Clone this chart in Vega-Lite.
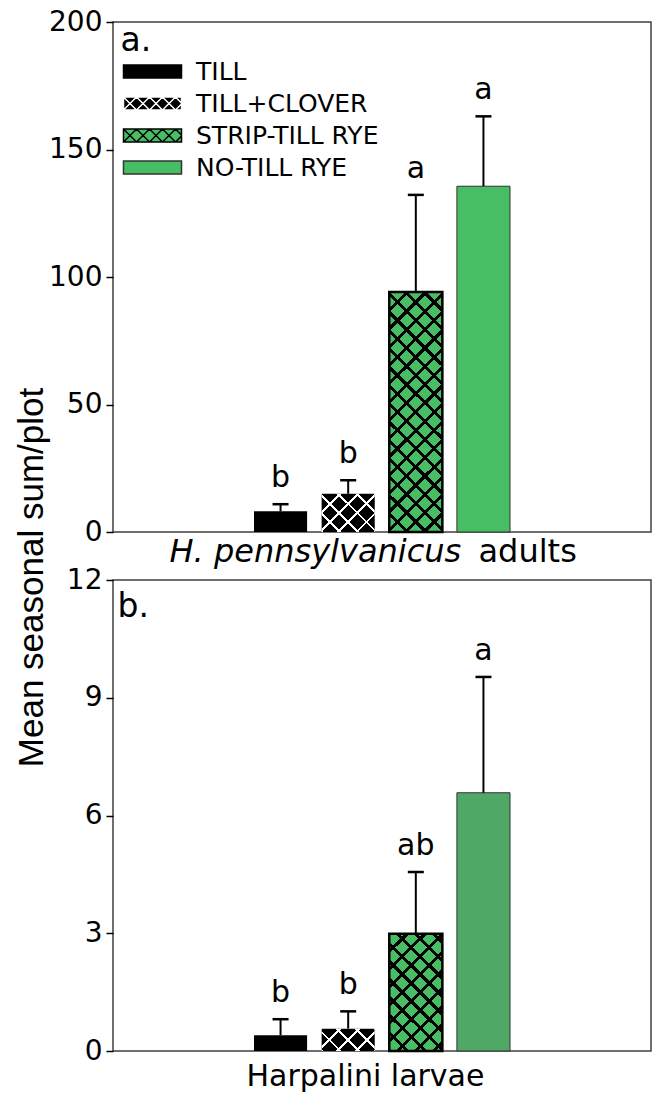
{
  "$schema": "https://vega.github.io/schema/vega-lite/v6.json",
  "padding": {"left": 13, "top": 7, "right": 4, "bottom": 5},
  "config": {
    "font": "DejaVu Sans",
    "view": {"stroke": "#404040", "strokeWidth": 1.5},
    "axis": {"grid": false}
  },
  "datasets": {
    "adults": [
      {"treatment": "TILL", "mean": 8.1, "upper": 10.9, "letter": "b"},
      {"treatment": "TILL+CLOVER", "mean": 15.0, "upper": 20.3, "letter": "b"},
      {"treatment": "STRIP-TILL RYE", "mean": 94.1, "upper": 132.2, "letter": "a"},
      {"treatment": "NO-TILL RYE", "mean": 135.6, "upper": 163.0, "letter": "a"}
    ],
    "larvae": [
      {"treatment": "TILL", "mean": 0.40, "upper": 0.81, "letter": "b"},
      {"treatment": "TILL+CLOVER", "mean": 0.57, "upper": 1.01, "letter": "b"},
      {"treatment": "STRIP-TILL RYE", "mean": 2.99, "upper": 4.56, "letter": "ab"},
      {"treatment": "NO-TILL RYE", "mean": 6.58, "upper": 9.53, "letter": "a"}
    ]
  },
  "spacing": 48,
  "bounds": "flush",
  "resolve": {"scale": {"x": "independent", "y": "independent", "fill": "independent"}, "legend": {"fill": "independent"}},
  "vconcat": [
    {
      "width": 538,
      "height": 510,
      "data": {"name": "adults"},
      "resolve": {"axis": {"x": "independent"}},
      "layer": [
        {
          "mark": {"type": "bar"},
          "encoding": {
            "x": {"field": "treatment", "type": "nominal", "sort": null,
              "scale": {"domain": ["TILL", "TILL+CLOVER", "STRIP-TILL RYE", "NO-TILL RYE"], "range": [141, 397], "paddingInner": 0.215, "paddingOuter": 0},
              "axis": {"orient": "bottom", "domain": false, "ticks": false, "labels": false, "title": "H. pennsylvanicus", "titleFont": "DejaVu Sans", "titleFontSize": 32, "titleFontStyle": "italic", "titleFontWeight": "normal", "titleColor": "black", "titleAlign": "left", "titleAnchor": "start", "titleX": 56, "titleY": 29, "titleBaseline": "alphabetic"}},
            "y": {"field": "mean", "type": "quantitative", "scale": {"domain": [0, 200], "nice": false},
              "axis": {"values": [0, 50, 100, 150, 200], "domain": false, "grid": false, "tickSize": 7, "tickColor": "black", "tickWidth": 1.5, "labelFont": "DejaVu Sans", "labelFontSize": 28, "labelColor": "black", "labelPadding": 4, "title": "Mean seasonal sum/plot", "titleFont": "Liberation Sans", "titleFontSize": 35, "titleFontWeight": "normal", "titleColor": "black", "titleAngle": 270, "titleAlign": "center", "titleBaseline": "middle", "titleX": -82, "titleY": 555}},
            "fill": {"field": "treatment", "type": "nominal",
              "scale": {"domain": ["TILL", "TILL+CLOVER", "STRIP-TILL RYE", "NO-TILL RYE"], "range": ["#000000", "#000000", "#48BE64", "#48BE64"]},
              "legend": null}
          }
        },
        {
          "mark": {"type": "point", "filled": true, "opacity": 0, "strokeWidth": 1.5},
          "encoding": {
            "x": {"field": "treatment", "type": "nominal", "sort": null, "axis": null},
            "y": {"field": "mean", "type": "quantitative"},
            "color": {"field": "treatment", "type": "nominal",
              "scale": {"domain": ["TILL", "TILL+CLOVER", "STRIP-TILL RYE", "NO-TILL RYE"], "range": ["#000000", "#000000", "#48BE64", "#48BE64"]},
              "legend": {"orient": "none", "legendX": 27, "legendY": 37, "title": null, "padding": 0, "labelFont": "DejaVu Sans", "labelFontSize": 25, "labelColor": "black", "labelLimit": 400, "labelOffset": 31, "symbolSize": 400, "rowPadding": 6, "symbolOpacity": 1, "symbolStrokeWidth": 1.5}},
            "shape": {"field": "treatment", "type": "nominal",
              "scale": {"domain": ["TILL", "TILL+CLOVER", "STRIP-TILL RYE", "NO-TILL RYE"], "range": [
                "M-2.9,-0.65H2.9V0.65H-2.9Z",
                "M-2.9,-0.65H2.9V0.65H-2.9Z M-2.9,0.65L-1.6,-0.65 M-2.9,-0.65L-1.6,0.65 M-1.6,0.65L-0.3,-0.65 M-1.6,-0.65L-0.3,0.65 M-0.3,0.65L1,-0.65 M-0.3,-0.65L1,0.65 M1,0.65L2.3,-0.65 M1,-0.65L2.3,0.65 M2.3,0.65L2.9,0.05 M2.3,-0.65L2.9,-0.05",
                "M-2.9,-0.65H2.9V0.65H-2.9Z M-2.9,0.65L-1.6,-0.65 M-2.9,-0.65L-1.6,0.65 M-1.6,0.65L-0.3,-0.65 M-1.6,-0.65L-0.3,0.65 M-0.3,0.65L1,-0.65 M-0.3,-0.65L1,0.65 M1,0.65L2.3,-0.65 M1,-0.65L2.3,0.65 M2.3,0.65L2.9,0.05 M2.3,-0.65L2.9,-0.05",
                "M-2.9,-0.65H2.9V0.65H-2.9Z"]},
              "legend": {"orient": "none", "legendX": 27, "legendY": 37, "title": null, "padding": 0, "labelFont": "DejaVu Sans", "labelFontSize": 25, "labelColor": "black", "labelLimit": 400, "labelOffset": 31, "symbolSize": 400, "rowPadding": 6, "symbolOpacity": 1, "symbolStrokeWidth": 1.5}},
            "stroke": {"field": "treatment", "type": "nominal",
              "scale": {"domain": ["TILL", "TILL+CLOVER", "STRIP-TILL RYE", "NO-TILL RYE"], "range": ["#000000", "#FFFFFF", "#000000", "#333333"]},
              "legend": {"orient": "none", "legendX": 27, "legendY": 37, "title": null, "padding": 0, "labelFont": "DejaVu Sans", "labelFontSize": 25, "labelColor": "black", "labelLimit": 400, "labelOffset": 31, "symbolSize": 400, "rowPadding": 6, "symbolOpacity": 1, "symbolStrokeWidth": 1.5}}
          }
        },
        {
          "transform": [{"filter": "datum.treatment === 'NO-TILL RYE'"}],
          "mark": {"type": "bar", "fill": "transparent", "stroke": "#333333", "strokeWidth": 1},
          "encoding": {
            "x": {"field": "treatment", "type": "nominal", "sort": null, "axis": null},
            "y": {"field": "mean", "type": "quantitative"}
          }
        },
        {
          "transform": [{"filter": "datum.treatment === 'STRIP-TILL RYE'"}],
          "mark": {"type": "bar", "fill": {"gradient": "linear", "x1": 0, "y1": 0, "x2": 0.2565, "y2": 1.1639, "stops": [
            {"offset": 0, "color": "#000"}, {"offset": 0.0072, "color": "#000"}, {"offset": 0.0072, "color": "transparent"},
            {"offset": 0.0553, "color": "transparent"}, {"offset": 0.0553, "color": "#000"}, {"offset": 0.0697, "color": "#000"}, {"offset": 0.0697, "color": "transparent"},
            {"offset": 0.1178, "color": "transparent"}, {"offset": 0.1178, "color": "#000"}, {"offset": 0.1322, "color": "#000"}, {"offset": 0.1322, "color": "transparent"},
            {"offset": 0.1803, "color": "transparent"}, {"offset": 0.1803, "color": "#000"}, {"offset": 0.1947, "color": "#000"}, {"offset": 0.1947, "color": "transparent"},
            {"offset": 0.2428, "color": "transparent"}, {"offset": 0.2428, "color": "#000"}, {"offset": 0.2572, "color": "#000"}, {"offset": 0.2572, "color": "transparent"},
            {"offset": 0.3053, "color": "transparent"}, {"offset": 0.3053, "color": "#000"}, {"offset": 0.3197, "color": "#000"}, {"offset": 0.3197, "color": "transparent"},
            {"offset": 0.3678, "color": "transparent"}, {"offset": 0.3678, "color": "#000"}, {"offset": 0.3822, "color": "#000"}, {"offset": 0.3822, "color": "transparent"},
            {"offset": 0.4303, "color": "transparent"}, {"offset": 0.4303, "color": "#000"}, {"offset": 0.4447, "color": "#000"}, {"offset": 0.4447, "color": "transparent"},
            {"offset": 0.4928, "color": "transparent"}, {"offset": 0.4928, "color": "#000"}, {"offset": 0.5072, "color": "#000"}, {"offset": 0.5072, "color": "transparent"},
            {"offset": 0.5553, "color": "transparent"}, {"offset": 0.5553, "color": "#000"}, {"offset": 0.5697, "color": "#000"}, {"offset": 0.5697, "color": "transparent"},
            {"offset": 0.6178, "color": "transparent"}, {"offset": 0.6178, "color": "#000"}, {"offset": 0.6322, "color": "#000"}, {"offset": 0.6322, "color": "transparent"},
            {"offset": 0.6803, "color": "transparent"}, {"offset": 0.6803, "color": "#000"}, {"offset": 0.6947, "color": "#000"}, {"offset": 0.6947, "color": "transparent"},
            {"offset": 0.7428, "color": "transparent"}, {"offset": 0.7428, "color": "#000"}, {"offset": 0.7572, "color": "#000"}, {"offset": 0.7572, "color": "transparent"},
            {"offset": 0.8053, "color": "transparent"}, {"offset": 0.8053, "color": "#000"}, {"offset": 0.8197, "color": "#000"}, {"offset": 0.8197, "color": "transparent"},
            {"offset": 0.8678, "color": "transparent"}, {"offset": 0.8678, "color": "#000"}, {"offset": 0.8822, "color": "#000"}, {"offset": 0.8822, "color": "transparent"},
            {"offset": 0.9303, "color": "transparent"}, {"offset": 0.9303, "color": "#000"}, {"offset": 0.9447, "color": "#000"}, {"offset": 0.9447, "color": "transparent"},
            {"offset": 0.9928, "color": "transparent"}, {"offset": 0.9928, "color": "#000"}, {"offset": 1, "color": "#000"}]}},
          "encoding": {
            "x": {"field": "treatment", "type": "nominal", "sort": null, "axis": null},
            "y": {"field": "mean", "type": "quantitative"}
          }
        },
        {
          "transform": [{"filter": "datum.treatment === 'STRIP-TILL RYE'"}],
          "mark": {"type": "bar", "stroke": "black", "strokeWidth": 2.5, "fill": {"gradient": "linear", "x1": 0, "y1": 1, "x2": 0.2565, "y2": -0.1639, "stops": [
            {"offset": 0, "color": "#000"}, {"offset": 0.0072, "color": "#000"}, {"offset": 0.0072, "color": "transparent"},
            {"offset": 0.0553, "color": "transparent"}, {"offset": 0.0553, "color": "#000"}, {"offset": 0.0697, "color": "#000"}, {"offset": 0.0697, "color": "transparent"},
            {"offset": 0.1178, "color": "transparent"}, {"offset": 0.1178, "color": "#000"}, {"offset": 0.1322, "color": "#000"}, {"offset": 0.1322, "color": "transparent"},
            {"offset": 0.1803, "color": "transparent"}, {"offset": 0.1803, "color": "#000"}, {"offset": 0.1947, "color": "#000"}, {"offset": 0.1947, "color": "transparent"},
            {"offset": 0.2428, "color": "transparent"}, {"offset": 0.2428, "color": "#000"}, {"offset": 0.2572, "color": "#000"}, {"offset": 0.2572, "color": "transparent"},
            {"offset": 0.3053, "color": "transparent"}, {"offset": 0.3053, "color": "#000"}, {"offset": 0.3197, "color": "#000"}, {"offset": 0.3197, "color": "transparent"},
            {"offset": 0.3678, "color": "transparent"}, {"offset": 0.3678, "color": "#000"}, {"offset": 0.3822, "color": "#000"}, {"offset": 0.3822, "color": "transparent"},
            {"offset": 0.4303, "color": "transparent"}, {"offset": 0.4303, "color": "#000"}, {"offset": 0.4447, "color": "#000"}, {"offset": 0.4447, "color": "transparent"},
            {"offset": 0.4928, "color": "transparent"}, {"offset": 0.4928, "color": "#000"}, {"offset": 0.5072, "color": "#000"}, {"offset": 0.5072, "color": "transparent"},
            {"offset": 0.5553, "color": "transparent"}, {"offset": 0.5553, "color": "#000"}, {"offset": 0.5697, "color": "#000"}, {"offset": 0.5697, "color": "transparent"},
            {"offset": 0.6178, "color": "transparent"}, {"offset": 0.6178, "color": "#000"}, {"offset": 0.6322, "color": "#000"}, {"offset": 0.6322, "color": "transparent"},
            {"offset": 0.6803, "color": "transparent"}, {"offset": 0.6803, "color": "#000"}, {"offset": 0.6947, "color": "#000"}, {"offset": 0.6947, "color": "transparent"},
            {"offset": 0.7428, "color": "transparent"}, {"offset": 0.7428, "color": "#000"}, {"offset": 0.7572, "color": "#000"}, {"offset": 0.7572, "color": "transparent"},
            {"offset": 0.8053, "color": "transparent"}, {"offset": 0.8053, "color": "#000"}, {"offset": 0.8197, "color": "#000"}, {"offset": 0.8197, "color": "transparent"},
            {"offset": 0.8678, "color": "transparent"}, {"offset": 0.8678, "color": "#000"}, {"offset": 0.8822, "color": "#000"}, {"offset": 0.8822, "color": "transparent"},
            {"offset": 0.9303, "color": "transparent"}, {"offset": 0.9303, "color": "#000"}, {"offset": 0.9447, "color": "#000"}, {"offset": 0.9447, "color": "transparent"},
            {"offset": 0.9928, "color": "transparent"}, {"offset": 0.9928, "color": "#000"}, {"offset": 1, "color": "#000"}]}},
          "encoding": {
            "x": {"field": "treatment", "type": "nominal", "sort": null, "axis": null},
            "y": {"field": "mean", "type": "quantitative"}
          }
        },
        {
          "transform": [{"filter": "datum.treatment === 'TILL+CLOVER'"}],
          "mark": {"type": "bar", "fill": {"gradient": "linear", "x1": 0, "y1": 0, "x2": 1.1315, "y2": 0.8181, "stops": [
            {"offset": 0, "color": "#fff"}, {"offset": 0.0155, "color": "#fff"}, {"offset": 0.0155, "color": "transparent"},
            {"offset": 0.1845, "color": "transparent"}, {"offset": 0.1845, "color": "#fff"}, {"offset": 0.2155, "color": "#fff"}, {"offset": 0.2155, "color": "transparent"},
            {"offset": 0.3845, "color": "transparent"}, {"offset": 0.3845, "color": "#fff"}, {"offset": 0.4155, "color": "#fff"}, {"offset": 0.4155, "color": "transparent"},
            {"offset": 0.5845, "color": "transparent"}, {"offset": 0.5845, "color": "#fff"}, {"offset": 0.6155, "color": "#fff"}, {"offset": 0.6155, "color": "transparent"},
            {"offset": 0.7845, "color": "transparent"}, {"offset": 0.7845, "color": "#fff"}, {"offset": 0.8155, "color": "#fff"}, {"offset": 0.8155, "color": "transparent"},
            {"offset": 0.9845, "color": "transparent"}, {"offset": 0.9845, "color": "#fff"}, {"offset": 1, "color": "#fff"}]}},
          "encoding": {
            "x": {"field": "treatment", "type": "nominal", "sort": null, "axis": null},
            "y": {"field": "mean", "type": "quantitative"}
          }
        },
        {
          "transform": [{"filter": "datum.treatment === 'TILL+CLOVER'"}],
          "mark": {"type": "bar", "fill": {"gradient": "linear", "x1": 0, "y1": 1, "x2": 1.1315, "y2": 0.1819, "stops": [
            {"offset": 0, "color": "#fff"}, {"offset": 0.0155, "color": "#fff"}, {"offset": 0.0155, "color": "transparent"},
            {"offset": 0.1845, "color": "transparent"}, {"offset": 0.1845, "color": "#fff"}, {"offset": 0.2155, "color": "#fff"}, {"offset": 0.2155, "color": "transparent"},
            {"offset": 0.3845, "color": "transparent"}, {"offset": 0.3845, "color": "#fff"}, {"offset": 0.4155, "color": "#fff"}, {"offset": 0.4155, "color": "transparent"},
            {"offset": 0.5845, "color": "transparent"}, {"offset": 0.5845, "color": "#fff"}, {"offset": 0.6155, "color": "#fff"}, {"offset": 0.6155, "color": "transparent"},
            {"offset": 0.7845, "color": "transparent"}, {"offset": 0.7845, "color": "#fff"}, {"offset": 0.8155, "color": "#fff"}, {"offset": 0.8155, "color": "transparent"},
            {"offset": 0.9845, "color": "transparent"}, {"offset": 0.9845, "color": "#fff"}, {"offset": 1, "color": "#fff"}]}},
          "encoding": {
            "x": {"field": "treatment", "type": "nominal", "sort": null, "axis": null},
            "y": {"field": "mean", "type": "quantitative"}
          }
        },
        {
          "mark": {"type": "rule", "color": "black", "strokeWidth": 2},
          "encoding": {
            "x": {"field": "treatment", "type": "nominal", "sort": null,
              "axis": {"orient": "bottom", "domain": false, "ticks": false, "labels": false, "title": "adults", "titleFont": "DejaVu Sans", "titleFontSize": 32, "titleFontWeight": "normal", "titleColor": "black", "titleAlign": "left", "titleAnchor": "start", "titleX": 365, "titleY": 29, "titleBaseline": "alphabetic"}},
            "y": {"field": "mean", "type": "quantitative"},
            "y2": {"field": "upper"}
          }
        },
        {
          "mark": {"type": "tick", "color": "black", "size": 16, "thickness": 2.5, "orient": "horizontal", "opacity": 1},
          "encoding": {
            "x": {"field": "treatment", "type": "nominal", "sort": null, "axis": null},
            "y": {"field": "upper", "type": "quantitative"}
          }
        },
        {
          "mark": {"type": "text", "font": "DejaVu Sans", "fontSize": 30, "color": "black", "baseline": "alphabetic", "dy": -17},
          "encoding": {
            "x": {"field": "treatment", "type": "nominal", "sort": null,
              "axis": {"orient": "top", "domain": false, "ticks": false, "labels": false, "title": "a.", "titleFont": "DejaVu Sans", "titleFontSize": 33, "titleFontWeight": "normal", "titleColor": "black", "titleAlign": "left", "titleAnchor": "start", "titleX": 7, "titleY": 28, "titleBaseline": "alphabetic"}},
            "y": {"field": "upper", "type": "quantitative"},
            "text": {"field": "letter"}
          }
        }
      ]
    },
    {
      "width": 538,
      "height": 471,
      "data": {"name": "larvae"},
      "resolve": {"axis": {"x": "independent"}},
      "layer": [
        {
          "mark": {"type": "bar"},
          "encoding": {
            "x": {"field": "treatment", "type": "nominal", "sort": null,
              "scale": {"domain": ["TILL", "TILL+CLOVER", "STRIP-TILL RYE", "NO-TILL RYE"], "range": [141, 397], "paddingInner": 0.215, "paddingOuter": 0},
              "axis": {"orient": "bottom", "domain": false, "ticks": false, "labels": false, "title": "Harpalini larvae", "titleFont": "DejaVu Sans", "titleFontSize": 30, "titleFontWeight": "normal", "titleColor": "black", "titleAlign": "center", "titleAnchor": "middle", "titleX": 252, "titleY": 34, "titleBaseline": "alphabetic"}},
            "y": {"field": "mean", "type": "quantitative", "scale": {"domain": [0, 12], "nice": false},
              "axis": {"values": [0, 3, 6, 9, 12], "domain": false, "grid": false, "tickSize": 7, "tickColor": "black", "tickWidth": 1.5, "labelFont": "DejaVu Sans", "labelFontSize": 28, "labelColor": "black", "labelPadding": 4, "title": null}},
            "fill": {"field": "treatment", "type": "nominal",
              "scale": {"domain": ["TILL", "TILL+CLOVER", "STRIP-TILL RYE", "NO-TILL RYE"], "range": ["#000000", "#000000", "#48BE64", "#4FA866"]},
              "legend": null}
          }
        },
        {
          "transform": [{"filter": "datum.treatment === 'NO-TILL RYE'"}],
          "mark": {"type": "bar", "fill": "transparent", "stroke": "#333333", "strokeWidth": 1},
          "encoding": {
            "x": {"field": "treatment", "type": "nominal", "sort": null, "axis": null},
            "y": {"field": "mean", "type": "quantitative"}
          }
        },
        {
          "transform": [{"filter": "datum.treatment === 'STRIP-TILL RYE'"}],
          "mark": {"type": "bar", "fill": {"gradient": "linear", "x1": 0, "y1": 0, "x2": 0.5433, "y2": 1.2058, "stops": [
            {"offset": 0, "color": "#000"}, {"offset": 0.0125, "color": "#000"}, {"offset": 0.0125, "color": "transparent"},
            {"offset": 0.0928, "color": "transparent"}, {"offset": 0.0928, "color": "#000"}, {"offset": 0.1178, "color": "#000"}, {"offset": 0.1178, "color": "transparent"},
            {"offset": 0.198, "color": "transparent"}, {"offset": 0.198, "color": "#000"}, {"offset": 0.223, "color": "#000"}, {"offset": 0.223, "color": "transparent"},
            {"offset": 0.3033, "color": "transparent"}, {"offset": 0.3033, "color": "#000"}, {"offset": 0.3283, "color": "#000"}, {"offset": 0.3283, "color": "transparent"},
            {"offset": 0.4086, "color": "transparent"}, {"offset": 0.4086, "color": "#000"}, {"offset": 0.4336, "color": "#000"}, {"offset": 0.4336, "color": "transparent"},
            {"offset": 0.5138, "color": "transparent"}, {"offset": 0.5138, "color": "#000"}, {"offset": 0.5388, "color": "#000"}, {"offset": 0.5388, "color": "transparent"},
            {"offset": 0.6191, "color": "transparent"}, {"offset": 0.6191, "color": "#000"}, {"offset": 0.6441, "color": "#000"}, {"offset": 0.6441, "color": "transparent"},
            {"offset": 0.7243, "color": "transparent"}, {"offset": 0.7243, "color": "#000"}, {"offset": 0.7493, "color": "#000"}, {"offset": 0.7493, "color": "transparent"},
            {"offset": 0.8296, "color": "transparent"}, {"offset": 0.8296, "color": "#000"}, {"offset": 0.8546, "color": "#000"}, {"offset": 0.8546, "color": "transparent"},
            {"offset": 0.9349, "color": "transparent"}, {"offset": 0.9349, "color": "#000"}, {"offset": 0.9599, "color": "#000"}, {"offset": 0.9599, "color": "transparent"},
            {"offset": 1, "color": "transparent"}]}},
          "encoding": {
            "x": {"field": "treatment", "type": "nominal", "sort": null, "axis": null},
            "y": {"field": "mean", "type": "quantitative"}
          }
        },
        {
          "transform": [{"filter": "datum.treatment === 'STRIP-TILL RYE'"}],
          "mark": {"type": "bar", "stroke": "black", "strokeWidth": 2.5, "fill": {"gradient": "linear", "x1": 0, "y1": 1, "x2": 0.5433, "y2": -0.2058, "stops": [
            {"offset": 0, "color": "#000"}, {"offset": 0.0125, "color": "#000"}, {"offset": 0.0125, "color": "transparent"},
            {"offset": 0.0928, "color": "transparent"}, {"offset": 0.0928, "color": "#000"}, {"offset": 0.1178, "color": "#000"}, {"offset": 0.1178, "color": "transparent"},
            {"offset": 0.198, "color": "transparent"}, {"offset": 0.198, "color": "#000"}, {"offset": 0.223, "color": "#000"}, {"offset": 0.223, "color": "transparent"},
            {"offset": 0.3033, "color": "transparent"}, {"offset": 0.3033, "color": "#000"}, {"offset": 0.3283, "color": "#000"}, {"offset": 0.3283, "color": "transparent"},
            {"offset": 0.4086, "color": "transparent"}, {"offset": 0.4086, "color": "#000"}, {"offset": 0.4336, "color": "#000"}, {"offset": 0.4336, "color": "transparent"},
            {"offset": 0.5138, "color": "transparent"}, {"offset": 0.5138, "color": "#000"}, {"offset": 0.5388, "color": "#000"}, {"offset": 0.5388, "color": "transparent"},
            {"offset": 0.6191, "color": "transparent"}, {"offset": 0.6191, "color": "#000"}, {"offset": 0.6441, "color": "#000"}, {"offset": 0.6441, "color": "transparent"},
            {"offset": 0.7243, "color": "transparent"}, {"offset": 0.7243, "color": "#000"}, {"offset": 0.7493, "color": "#000"}, {"offset": 0.7493, "color": "transparent"},
            {"offset": 0.8296, "color": "transparent"}, {"offset": 0.8296, "color": "#000"}, {"offset": 0.8546, "color": "#000"}, {"offset": 0.8546, "color": "transparent"},
            {"offset": 0.9349, "color": "transparent"}, {"offset": 0.9349, "color": "#000"}, {"offset": 0.9599, "color": "#000"}, {"offset": 0.9599, "color": "transparent"},
            {"offset": 1, "color": "transparent"}]}},
          "encoding": {
            "x": {"field": "treatment", "type": "nominal", "sort": null, "axis": null},
            "y": {"field": "mean", "type": "quantitative"}
          }
        },
        {
          "transform": [{"filter": "datum.treatment === 'TILL+CLOVER'"}],
          "mark": {"type": "bar", "fill": {"gradient": "linear", "x1": 0, "y1": 0, "x2": 1.207, "y2": 0.5111, "stops": [
            {"offset": 0, "color": "#fff"}, {"offset": 0.0188, "color": "#fff"}, {"offset": 0.0188, "color": "transparent"},
            {"offset": 0.2312, "color": "transparent"}, {"offset": 0.2312, "color": "#fff"}, {"offset": 0.2688, "color": "#fff"}, {"offset": 0.2688, "color": "transparent"},
            {"offset": 0.4812, "color": "transparent"}, {"offset": 0.4812, "color": "#fff"}, {"offset": 0.5188, "color": "#fff"}, {"offset": 0.5188, "color": "transparent"},
            {"offset": 0.7312, "color": "transparent"}, {"offset": 0.7312, "color": "#fff"}, {"offset": 0.7688, "color": "#fff"}, {"offset": 0.7688, "color": "transparent"},
            {"offset": 0.9812, "color": "transparent"}, {"offset": 0.9812, "color": "#fff"}, {"offset": 1, "color": "#fff"}]}},
          "encoding": {
            "x": {"field": "treatment", "type": "nominal", "sort": null, "axis": null},
            "y": {"field": "mean", "type": "quantitative"}
          }
        },
        {
          "transform": [{"filter": "datum.treatment === 'TILL+CLOVER'"}],
          "mark": {"type": "bar", "fill": {"gradient": "linear", "x1": 0, "y1": 1, "x2": 1.207, "y2": 0.4889, "stops": [
            {"offset": 0, "color": "#fff"}, {"offset": 0.0188, "color": "#fff"}, {"offset": 0.0188, "color": "transparent"},
            {"offset": 0.2312, "color": "transparent"}, {"offset": 0.2312, "color": "#fff"}, {"offset": 0.2688, "color": "#fff"}, {"offset": 0.2688, "color": "transparent"},
            {"offset": 0.4812, "color": "transparent"}, {"offset": 0.4812, "color": "#fff"}, {"offset": 0.5188, "color": "#fff"}, {"offset": 0.5188, "color": "transparent"},
            {"offset": 0.7312, "color": "transparent"}, {"offset": 0.7312, "color": "#fff"}, {"offset": 0.7688, "color": "#fff"}, {"offset": 0.7688, "color": "transparent"},
            {"offset": 0.9812, "color": "transparent"}, {"offset": 0.9812, "color": "#fff"}, {"offset": 1, "color": "#fff"}]}},
          "encoding": {
            "x": {"field": "treatment", "type": "nominal", "sort": null, "axis": null},
            "y": {"field": "mean", "type": "quantitative"}
          }
        },
        {
          "mark": {"type": "rule", "color": "black", "strokeWidth": 2},
          "encoding": {
            "x": {"field": "treatment", "type": "nominal", "sort": null, "axis": null},
            "y": {"field": "mean", "type": "quantitative"},
            "y2": {"field": "upper"}
          }
        },
        {
          "mark": {"type": "tick", "color": "black", "size": 16, "thickness": 2.5, "orient": "horizontal", "opacity": 1},
          "encoding": {
            "x": {"field": "treatment", "type": "nominal", "sort": null, "axis": null},
            "y": {"field": "upper", "type": "quantitative"}
          }
        },
        {
          "mark": {"type": "text", "font": "DejaVu Sans", "fontSize": 30, "color": "black", "baseline": "alphabetic", "dy": -17},
          "encoding": {
            "x": {"field": "treatment", "type": "nominal", "sort": null,
              "axis": {"orient": "top", "domain": false, "ticks": false, "labels": false, "title": "b.", "titleFont": "DejaVu Sans", "titleFontSize": 33, "titleFontWeight": "normal", "titleColor": "black", "titleAlign": "left", "titleAnchor": "start", "titleX": 4, "titleY": 36, "titleBaseline": "alphabetic"}},
            "y": {"field": "upper", "type": "quantitative"},
            "text": {"field": "letter"}
          }
        }
      ]
    }
  ]
}
